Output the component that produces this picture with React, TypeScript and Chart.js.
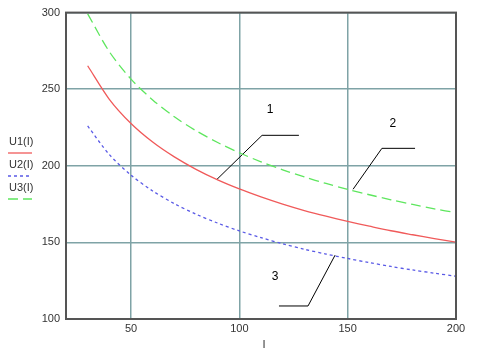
import React, { useEffect, useRef } from "react";
import { Chart, registerables } from "chart.js";

Chart.register(...registerables);

const currents = [30, 40, 50, 60, 70, 80, 90, 100, 110, 120, 130, 140, 150, 160, 170, 180, 190, 200];
const u1 = [265.3, 243.4, 227.6, 215.5, 205.8, 197.7, 190.8, 184.9, 179.7, 175.0, 170.8, 167.1, 163.7, 160.6, 157.6, 155.0, 152.5, 150.2];
const u2 = [226.0, 207.3, 193.9, 183.6, 175.3, 168.4, 162.6, 157.5, 153.1, 149.1, 145.5, 142.4, 139.5, 136.8, 134.3, 132.0, 129.9, 127.9];
const u3 = [299.2, 274.5, 256.6, 243.0, 232.0, 222.9, 215.2, 208.5, 202.6, 197.4, 192.7, 188.5, 184.6, 181.1, 177.8, 174.8, 171.9, 169.4];

const xTicks = [50, 100, 150, 200];
const yTicks = [100, 150, 200, 250, 300];
const seriesNames = ["U1(I)", "U2(I)", "U3(I)"];
const axisTitle = "I";

// leader lines for curve labels (data coordinates)
const leader1 = [{ x: 89.7, y: 191.2 }, { x: 110.5, y: 219.9 }, { x: 127.5, y: 219.9 }];
const leader2 = [{ x: 152.5, y: 184.7 }, { x: 165.8, y: 211.4 }, { x: 181.1, y: 211.4 }];
const leader3 = [{ x: 144.2, y: 141.7 }, { x: 131.7, y: 108.5 }, { x: 118.3, y: 108.5 }];
const curveLabels = [
  { text: "1", x: 114.2, y: 236.8 },
  { text: "2", x: 170.9, y: 227.7 },
  { text: "3", x: 116.5, y: 127.4 },
];

const RED = "#f05a5a";
const BLUE = "#5a5ae6";
const GREEN = "#5ee65e";
const GRID = "#7fa3a6";
const FONT = "'Liberation Sans', Arial, sans-serif";

export default function App() {
  const ref = useRef<HTMLCanvasElement | null>(null);

  useEffect(() => {
    const canvas = ref.current;
    if (!canvas) return;

    const decorPlugin = {
      id: "decor",
      afterDatasetsDraw(chart: any) {
        const { ctx, chartArea, scales } = chart;
        const x = scales.x;
        const y = scales.y;
        ctx.save();
        // frame
        ctx.strokeStyle = "#555555";
        ctx.lineWidth = 2;
        ctx.strokeRect(chartArea.left, chartArea.top, chartArea.right - chartArea.left, chartArea.bottom - chartArea.top);
        // curve numbers
        ctx.fillStyle = "#000";
        ctx.font = `12px ${FONT}`;
        ctx.textAlign = "center";
        ctx.textBaseline = "middle";
        curveLabels.forEach((l) => {
          ctx.fillText(l.text, x.getPixelForValue(l.x), y.getPixelForValue(l.y));
        });
        // legend on the left
        const entries = [
          { name: seriesNames[0], color: RED, dash: [] as number[] },
          { name: seriesNames[1], color: BLUE, dash: [3, 3] },
          { name: seriesNames[2], color: GREEN, dash: [10, 5] },
        ];
        ctx.textAlign = "left";
        ctx.textBaseline = "middle";
        ctx.font = `11px ${FONT}`;
        entries.forEach((e, i) => {
          const ty = 142 + i * 23;
          ctx.fillStyle = "#333";
          ctx.fillText(e.name, 9, ty);
          ctx.strokeStyle = e.color;
          ctx.lineWidth = 1.3;
          ctx.setLineDash(e.dash);
          ctx.beginPath();
          ctx.moveTo(8, ty + 11);
          ctx.lineTo(32, ty + 11);
          ctx.stroke();
          ctx.setLineDash([]);
        });
        // axis title
        ctx.fillStyle = "#333";
        ctx.textAlign = "center";
        ctx.fillText(axisTitle, (chartArea.left + chartArea.right) / 2 + 3, 345);
        ctx.restore();
      },
    };

    const leaderStyle = {
      borderColor: "#000",
      borderWidth: 1,
      pointRadius: 0,
      fill: false,
      tension: 0,
    };

    const chart = new Chart(canvas, {
      type: "line",
      data: {
        datasets: [
          { label: seriesNames[0], data: currents.map((c, i) => ({ x: c, y: u1[i] })), borderColor: RED, borderWidth: 1.3, pointRadius: 0, tension: 0.3 },
          { label: seriesNames[1], data: currents.map((c, i) => ({ x: c, y: u2[i] })), borderColor: BLUE, borderWidth: 1.3, borderDash: [3, 3], pointRadius: 0, tension: 0.3 },
          { label: seriesNames[2], data: currents.map((c, i) => ({ x: c, y: u3[i] })), borderColor: GREEN, borderWidth: 1.3, borderDash: [10, 5], pointRadius: 0, tension: 0.3 },
          { label: "l1", data: leader1, ...leaderStyle },
          { label: "l2", data: leader2, ...leaderStyle },
          { label: "l3", data: leader3, ...leaderStyle },
        ] as any,
      },
      options: {
        animation: false,
        responsive: false,
        layout: { padding: { left: 0, top: 12, right: 22, bottom: 0 } },
        plugins: { legend: { display: false }, tooltip: { enabled: false } },
        scales: {
          x: {
            type: "linear",
            min: 20,
            max: 200,
            afterBuildTicks: (axis: any) => {
              axis.ticks = xTicks.map((v) => ({ value: v }));
            },
            afterFit: (axis: any) => {
              axis.height = 40;
            },
            grid: { color: GRID, lineWidth: 1.5, drawTicks: false },
            border: { display: false },
            ticks: { color: "#333", font: { family: FONT, size: 11 }, padding: 3, maxRotation: 0 },
          },
          y: {
            type: "linear",
            min: 100,
            max: 300,
            afterBuildTicks: (axis: any) => {
              axis.ticks = yTicks.map((v) => ({ value: v }));
            },
            afterFit: (axis: any) => {
              axis.width = 66;
            },
            grid: { color: GRID, lineWidth: 1.5, drawTicks: false },
            border: { display: false },
            ticks: { color: "#333", font: { family: FONT, size: 11 }, padding: 6 },
          },
        },
      } as any,
      plugins: [decorPlugin],
    });

    return () => chart.destroy();
  }, []);

  return (
    <div style={{ position: "absolute", left: 0, top: 0, width: 478, height: 359, background: "#fff" }}>
      <canvas ref={ref} width={478} height={359} style={{ display: "block" }} />
    </div>
  );
}
